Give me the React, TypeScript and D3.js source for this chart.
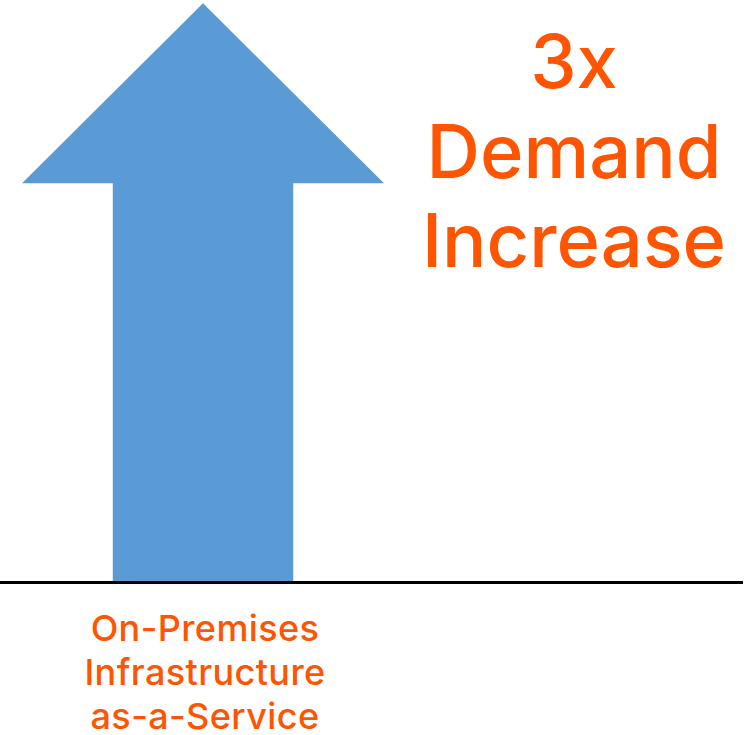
import React from "react";
import * as d3 from "d3";

const categories = ["On-Premises Infrastructure as-a-Service"];
const labelLines = ["On-Premises", "Infrastructure", "as-a-Service"];
const values = [3];
const calloutLines = ["3x", "Demand", "Increase"];

const W = 754;
const H = 735;
const ORANGE = "#FF5400";
const BLUE = "#5B9BD5";

export default function App() {
  const baseY = 582.5;
  const x = d3.scaleBand<string>().domain(categories).range([22, 384]).padding(0);
  const y = d3.scaleLinear().domain([0, d3.max(values) as number]).range([baseY, 3.3]);
  const font = "Inter, 'Noto Sans', sans-serif";

  return (
    <svg
      width={W}
      height={H}
      style={{ position: "absolute", left: 0, top: 0, background: "#fff" }}
    >
      {categories.map((c, i) => {
        const x0 = x(c) as number;
        const bw = x.bandwidth();
        const cx = x0 + bw / 2;
        const shaftW = bw * 0.4985;
        const tipY = y(values[i]);
        const headBaseY = y(values[i] * 0.6895);
        const path = d3.path();
        path.moveTo(cx - shaftW / 2, baseY);
        path.lineTo(cx - shaftW / 2, headBaseY);
        path.lineTo(x0, headBaseY);
        path.lineTo(cx, tipY);
        path.lineTo(x0 + bw, headBaseY);
        path.lineTo(cx + shaftW / 2, headBaseY);
        path.lineTo(cx + shaftW / 2, baseY);
        path.closePath();
        return (
          <g key={c}>
            <path d={path.toString()} fill={BLUE} />
            <text
              x={cx + 2}
              textAnchor="middle"
              fill={ORANGE}
              fontFamily={font}
              fontSize={36}
              fontWeight={500}
              style={{ letterSpacing: "0.4px" }}
            >
              {labelLines.map((l, k) => (
                <tspan key={l} x={cx + 2} y={641 + k * 44}>
                  {l}
                </tspan>
              ))}
            </text>
          </g>
        );
      })}
      <line x1={0} x2={743} y1={baseY} y2={baseY} stroke="#000" strokeWidth={3} />
      <text textAnchor="middle" fill={ORANGE} fontFamily={font} fontSize={74} fontWeight={500}>
        {calloutLines.map((l, k) => (
          <tspan key={l} x={574} y={88 + k * 89.5}>
            {l}
          </tspan>
        ))}
      </text>
    </svg>
  );
}
